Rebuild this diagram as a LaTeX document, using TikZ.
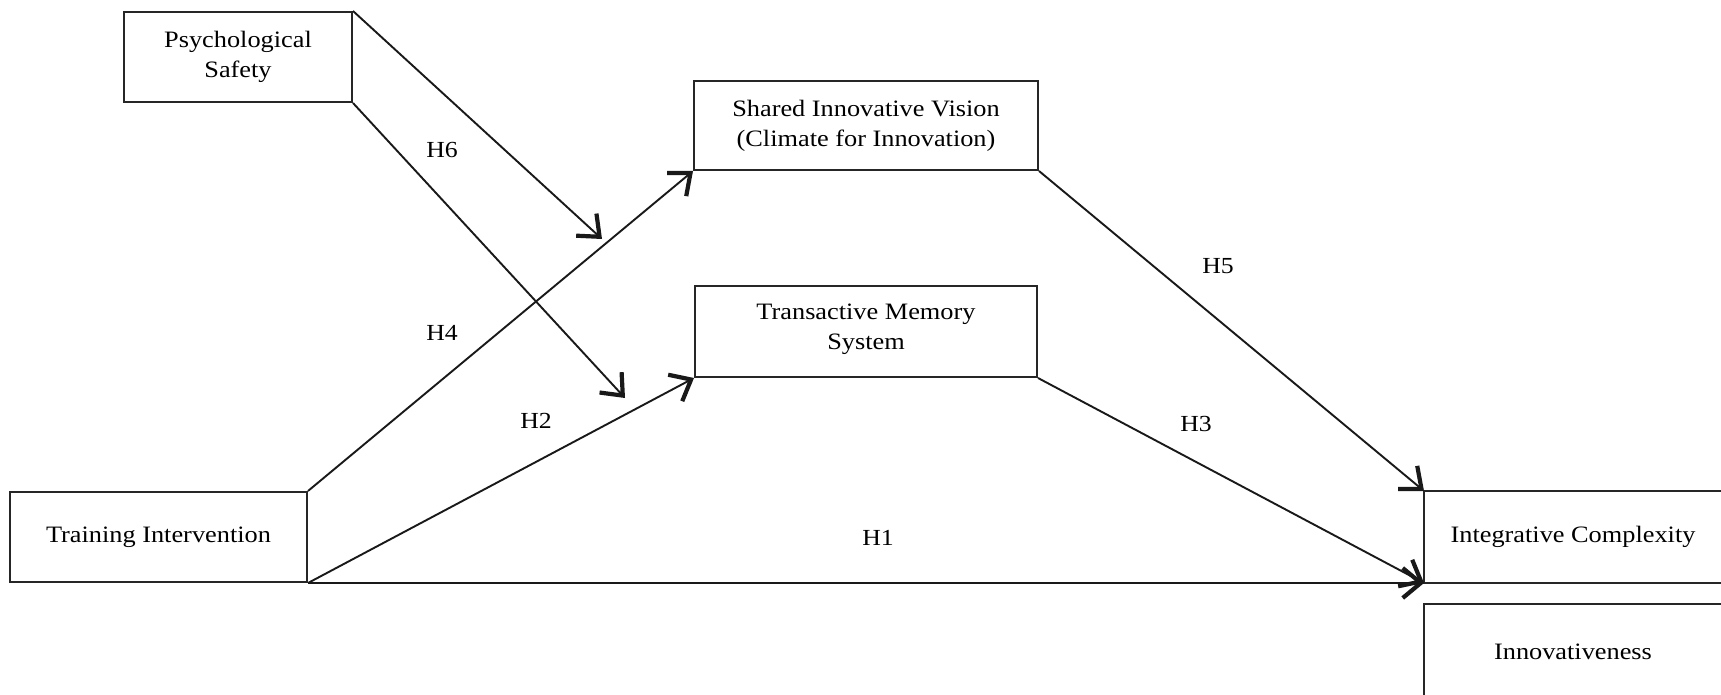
\documentclass[tikz,border=0pt]{standalone}
\usepackage{fontspec}
\setmainfont{Liberation Serif}[FakeStretch=1.12]
\usetikzlibrary{arrows.meta}
\begin{document}
\begin{tikzpicture}[x=1pt,y=-1pt,
  lbl/.style={font=\fontsize{23}{27}\selectfont, inner sep=0pt},
  box/.style={draw=black!85, line width=2pt, rectangle, align=center, inner sep=0pt, font=\fontsize{23.5}{30}\selectfont},
  boxline/.style={draw=black!85, line width=2pt},
  arr/.style={draw=black!90, line width=1.9pt, -{Straight Barb[length=18pt,width=30pt,line width'=4.2pt]}}]
\useasboundingbox (0,0) rectangle (1721,695);
\clip (0,0) rectangle (1721,695);
\fill[white] (0,0) rectangle (1721,695);
\node[box, minimum width=228pt, minimum height=90pt] (ps) at (238,57) {Psychological\\Safety};
\node[box, minimum width=297pt, minimum height=90pt] (ti) at (158.5,537) {Training Intervention};
\node[box, minimum width=344pt, minimum height=89pt] (siv) at (866,125.5) {Shared Innovative Vision\\(Climate for Innovation)};
\node[box, minimum width=342pt, minimum height=91pt, text depth=10pt] (tms) at (866,331.5) {Transactive Memory\\System};
\node[box, draw=none, minimum width=296pt, minimum height=90pt] (ic) at (1573,537) {Integrative Complexity};
\node[box, draw=none, minimum width=296pt, minimum height=94pt] (inn) at (1573,652) {Innovativeness};
\draw[boxline] ([xshift=40pt]ic.north east) -- (ic.north west) -- (ic.south west) -- ([xshift=40pt]ic.south east);
\draw[boxline] ([xshift=40pt]inn.north east) -- (inn.north west) -- ([yshift=-40pt]inn.south west);
\coordinate (m1) at (602,239);
\coordinate (m2) at (625,398);
\draw[arr] (ps.north east) -- (m1);
\draw[arr] (ps.south east) -- (m2);
\draw[arr] (ti.north east) -- (siv.south west);
\draw[arr] (ti.south east) -- (tms.south west);
\draw[arr] (ti.south east) -- (ic.south west);
\draw[arr] (siv.south east) -- (ic.north west);
\draw[arr] (tms.south east) -- (ic.south west);
\node[lbl] (h6) at (442,150) {H6};
\node[lbl] (h5) at (1218,266) {H5};
\node[lbl] (h4) at (442,333) {H4};
\node[lbl] (h2) at (536,421) {H2};
\node[lbl] (h3) at (1196,424) {H3};
\node[lbl] (h1) at (878,538) {H1};
\end{tikzpicture}
\end{document}
